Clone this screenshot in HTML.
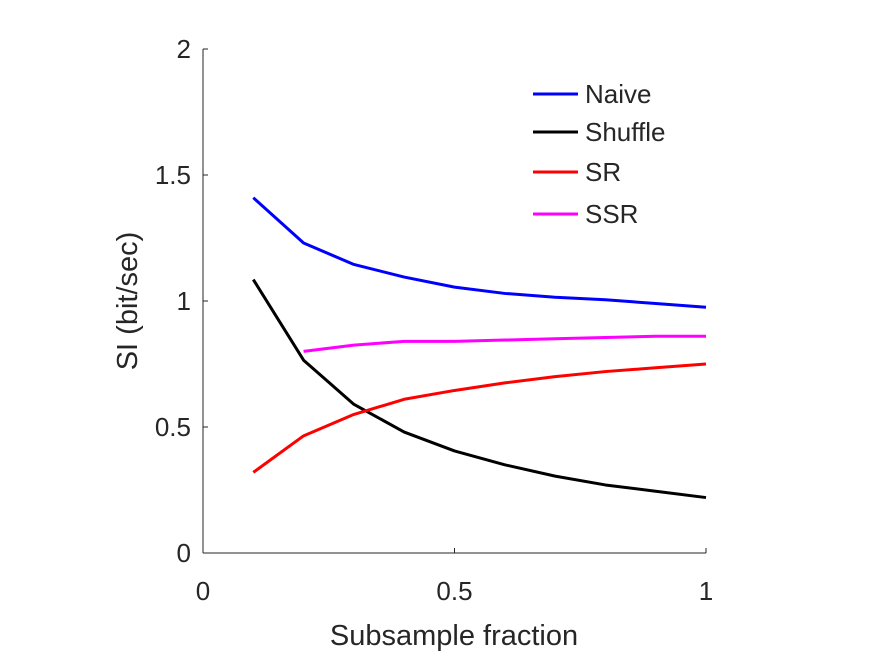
<!DOCTYPE html>
<html><head><meta charset="utf-8"><style>
body{margin:0;background:#fff}
svg text{font-family:"Liberation Sans",Arial,sans-serif;fill:#262626}
</style></head><body>
<svg width="875" height="656" id="c">
<rect width="875" height="656" fill="#fff"/>
<g id="axes"></g>
<g id="series"></g>
<text x="454" y="645" text-anchor="middle" font-size="29">Subsample fraction</text>
<text transform="translate(137,301) rotate(-90)" text-anchor="middle" font-size="29">SI (bit/sec)</text>
<g id="legend"></g>
</svg>
<script>
const xVals=[0.1,0.2,0.3,0.4,0.5,0.6,0.7,0.8,0.9,1.0];
const naive=[1.41,1.23,1.145,1.095,1.055,1.03,1.015,1.005,0.99,0.975];
const shuffle=[1.085,0.765,0.59,0.48,0.405,0.35,0.305,0.27,0.245,0.22];
const sr=[0.32,0.465,0.55,0.61,0.645,0.675,0.70,0.72,0.735,0.75];
const ssrX=[0.2,0.3,0.4,0.5,0.6,0.7,0.8,0.9,1.0];
const ssr=[0.80,0.825,0.84,0.84,0.845,0.85,0.855,0.86,0.86];
const xTicks=[0,0.5,1];
const xTickLabels=["0","0.5","1"];
const yTicks=[0,0.5,1,1.5,2];
const yTickLabels=["0","0.5","1","1.5","2"];
const seriesNames=["Naive","Shuffle","SR","SSR"];
const NS="http://www.w3.org/2000/svg";
const X=v=>203+v*503, Y=v=>553-v*252;
function mk(t,a,p){const e=document.createElementNS(NS,t);for(const k in a)e.setAttribute(k,a[k]);p.appendChild(e);return e;}
const ax=document.getElementById('axes');
let l=mk('line',{x1:203,y1:49,x2:203,y2:553,stroke:'#262626','stroke-width':1},ax);


l=mk('line',{x1:203,y1:553,x2:706,y2:553,stroke:'#262626','stroke-width':1},ax);


xTicks.forEach((v,i)=>{
 let t=mk('line',{x1:X(v),y1:553,x2:X(v),y2:548,stroke:'#262626'},ax);
 
 
 let tx=mk('text',{x:X(v),y:600,'text-anchor':'middle','font-size':26},ax);tx.textContent=xTickLabels[i];
 
 
});
yTicks.forEach((v,i)=>{
 let t=mk('line',{x1:203,y1:Y(v),x2:208,y2:Y(v),stroke:'#262626'},ax);
 
 
 let tx=mk('text',{x:191,y:Y(v)+9,'text-anchor':'end','font-size':26},ax);tx.textContent=yTickLabels[i];
 
 
});
const sg=document.getElementById('series');
const defs=[[xVals,naive,'#0000ff','naive-line'],[xVals,shuffle,'#000000','shuffle-line'],[xVals,sr,'#ff0000','sr-line'],[ssrX,ssr,'#ff00ff','ssr-line']];
defs.forEach(d=>{
 const pts=d[0].map((x,i)=>X(x)+','+Y(d[1][i])).join(' ');
 const p=mk('polyline',{points:pts,fill:'none',stroke:d[2],'stroke-width':3,'stroke-linejoin':'round'},sg);
 
 
});
const lg=document.getElementById('legend');
const ly=[94,132,172,214];
seriesNames.forEach((n,i)=>{
 const ln=mk('line',{x1:533,y1:ly[i],x2:578,y2:ly[i],stroke:defs[i][2],'stroke-width':3},lg);
 
 
 const t=mk('text',{x:585,y:ly[i]+9,'font-size':26,fill:'#000'},lg);t.textContent=n;
 
 
});
</script>
</body></html>
